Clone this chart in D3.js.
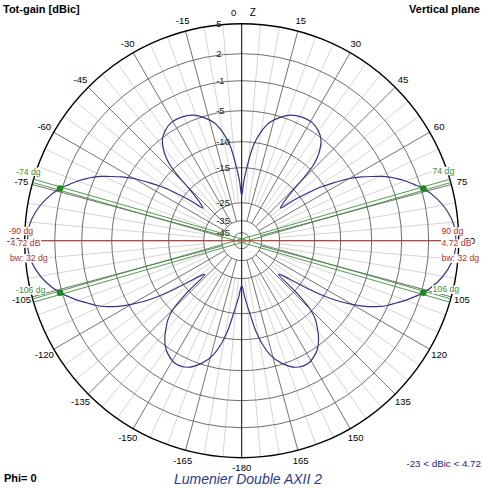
<!DOCTYPE html>
<html><head><meta charset="utf-8">
<script src="https://cdn.jsdelivr.net/npm/d3@7"></script>
<style>
body{margin:0;background:#fff}
svg{display:block}
text{font-family:"Liberation Sans",Arial,sans-serif}
</style>
</head><body>
<svg id="chart" width="483" height="488"></svg>
<script>
// ---------- data ----------
const ringLevels = [5, 2, -1, -5, -10, -15, -25, -35, -45];
const ringLabels = ["5", "2", "-1", "-5", "-10", "-15", "-25", "-35", "-45"];
const angleTicks = [0, 15, 30, 45, 60, 75, 90, 105, 120, 135, 150, 165, 180, -165, -150, -135, -120, -105, -90, -75, -60, -45, -30, -15];
const angleTickLabels = ["0", "15", "30", "45", "60", "75", "90", "105", "120", "135", "150", "165", "-180", "-165", "-150", "-135", "-120", "-105", "-90", "-75", "-60", "-45", "-30", "-15"];

// right half (theta 0..180 deg, clockwise from Z)
const angleRight = [0, 2, 4, 7, 10, 13, 17, 21, 26, 31, 35, 38, 40, 42, 43.5, 44.5, 45.5, 47.5, 50, 52, 54, 56, 58, 60, 62, 64, 66, 68, 70, 72, 74, 78, 82, 86, 90, 94, 98, 102, 106, 108, 110, 112, 114, 116, 118, 120, 122, 124, 126, 128, 130.5, 132.5, 133.5, 135, 137, 139, 141, 144, 147, 152, 157, 162, 166, 169, 171, 174, 177, 180];
const gainRight  = [-23, -19, -15, -10.6, -8.2, -6.5, -5.2, -4.4, -4.0, -4.0, -4.5, -5.2, -6.2, -7.6, -9.2, -11.8, -15.5, -19.5, -21.4, -17.2, -13.5, -10.5, -8.2, -5.9, -4.2, -2.8, -1.3, -0.3, 0.6, 1.4, 2.2, 3.3, 4.1, 4.6, 4.72, 4.6, 4.1, 3.3, 2.2, 1.4, 0.6, -0.3, -1.1, -2.3, -3.7, -5.4, -7.6, -10.3, -13.4, -17, -20.5, -21.6, -14.5, -10.4, -8.5, -7.4, -6.3, -5.0, -4.3, -3.7, -4.0, -5.2, -7.0, -9.2, -11.3, -15.6, -19.8, -23];
// left half (theta -180..0 deg)
const angleLeft = [-180, -177, -174, -171, -169, -166, -162, -157, -152, -147, -144, -141, -139, -137, -135, -133.5, -132.5, -130.5, -128, -126, -124, -122, -120, -118, -116, -114, -112, -110, -108, -106, -102, -98, -94, -90, -86, -82, -78, -74, -72, -70, -68, -66, -64, -62, -60, -58, -56, -54, -52, -50, -47.5, -45.5, -44.5, -43.5, -42, -40, -38, -35, -31, -26, -21, -17, -13, -10, -7, -4, -2, 0];
const gainLeft  = [-23, -19.8, -15.6, -11.3, -9.2, -7.0, -5.2, -4.0, -3.7, -4.3, -5.0, -6.3, -7.4, -8.5, -10.4, -14.5, -21.6, -20.5, -17, -13.4, -10.3, -7.6, -5.4, -3.7, -2.3, -1.1, -0.3, 0.6, 1.4, 2.2, 3.3, 4.1, 4.6, 4.72, 4.6, 4.1, 3.3, 2.2, 1.4, 0.6, -0.3, -1.3, -2.8, -4.2, -5.9, -8.2, -10.5, -13.5, -17.2, -21.4, -19.5, -15.5, -11.8, -9.2, -7.6, -6.2, -5.2, -4.5, -4.0, -4.0, -4.4, -5.2, -6.5, -8.2, -10.6, -15, -19, -23];

const beamAngles = [-74, 74, -106, 106];
const beamLabels = ["-74 dg", "74 dg", "-106 dg", "106 dg"];
const maxAngleLabels = ["-90 dg", "90 dg"];
const maxGain = 4.72, minGain = -23, beamWidth = 32;

// ---------- layout ----------
const svg = d3.select("#chart");
const cx = 241.7, cy = 240.7;
const rScale = d3.scaleLinear()
  .domain([-45, -35, -25, -15, -10, -5, -1, 2, 5])
  .range([8, 20, 38, 73, 99, 130, 160, 187, 217])
  .clamp(true);
const R = rScale(5);
const rad = d => d * Math.PI / 180;
const px = (a, r) => cx + r * Math.sin(rad(a));
const py = (a, r) => cy - r * Math.cos(rad(a));

const g = svg.append("g");

// light radial grid every 5 deg
const fine = d3.range(0, 360, 5).filter(a => a % 15 !== 0);
g.selectAll("line.fine").data(fine).join("line")
  .attr("x1", a => px(a, rScale(-25))).attr("y1", a => py(a, rScale(-25)))
  .attr("x2", a => px(a, R)).attr("y2", a => py(a, R))
  .attr("stroke", "#cfcfcf").attr("stroke-width", 0.9);
// dark radial grid every 15 deg
const coarse = d3.range(0, 360, 15).filter(a => a % 180 !== 0);
g.selectAll("line.coarse").data(coarse).join("line")
  .attr("x1", a => px(a, rScale(-35))).attr("y1", a => py(a, rScale(-35)))
  .attr("x2", a => px(a, R)).attr("y2", a => py(a, R))
  .attr("stroke", "#626262").attr("stroke-width", 0.9);
// rings
g.selectAll("circle.ring").data(ringLevels).join("circle")
  .attr("cx", cx).attr("cy", cy).attr("r", d => rScale(d))
  .attr("fill", "none")
  .attr("stroke", d => d === 5 ? "#000" : "#5e5e5e")
  .attr("stroke-width", d => d === 5 ? 1.4 : 0.9);
// vertical Z axis
g.append("line").attr("x1", px(0, R)).attr("y1", py(0, R)).attr("x2", px(180, R)).attr("y2", py(180, R))
  .attr("stroke", "#000").attr("stroke-width", 1);

// ring labels
g.selectAll("text.ringlab").data(ringLevels).join("text")
  .attr("x", cx - 25.5).attr("y", d => cy - rScale(d)).attr("dy", "0.35em")
  .attr("font-size", 9.5).attr("fill", "#222")
  .text((d, i) => ringLabels[i]);

// angle tick labels
const tickR = 228;
g.selectAll("text.tick").data(angleTicks).join("text")
  .attr("x", a => px(a, tickR) + (a === 0 ? -8 : 0))
  .attr("y", a => py(a, tickR) + (a === 180 ? -1.5 : 0)).attr("dy", "0.35em")
  .attr("text-anchor", "middle").attr("font-size", 9.5).attr("fill", "#000")
  .text((a, i) => angleTickLabels[i]);
g.append("text").attr("x", px(0, tickR) + 11).attr("y", py(0, tickR)).attr("dy", "0.35em")
  .attr("text-anchor", "middle").attr("font-size", 10).attr("fill", "#000").text("Z");

// green beamwidth lines (double)
const green = "#3d8f3d";
[[-74, 106], [74, -106]].forEach(([a1, a2]) => {
  [-0.45, 0.45].forEach(off => {
    g.append("line")
      .attr("x1", px(a1 + off, R)).attr("y1", py(a1 + off, R))
      .attr("x2", px(a2 - off, R)).attr("y2", py(a2 - off, R))
      .attr("stroke", green).attr("stroke-width", 0.9);
  });
});

// red max line
const red = "#b03030";
g.append("line")
  .attr("x1", px(-90, rScale(maxGain))).attr("y1", py(-90, rScale(maxGain)))
  .attr("x2", px(90, rScale(maxGain))).attr("y2", py(90, rScale(maxGain)))
  .attr("stroke", "#c23535").attr("stroke-width", 1);

// pattern curve
const pts = angleRight.map((a, i) => ({a: a, g: gainRight[i]}))
  .concat(angleLeft.map((a, i) => ({a: a + 360, g: gainLeft[i]})).filter(d => d.a > 180 && d.a < 360));
const line = d3.lineRadial()
  .angle(d => rad(d.a)).radius(d => rScale(d.g))
  .curve(d3.curveCatmullRomClosed.alpha(0.5));
g.append("path").attr("transform", `translate(${cx},${cy})`)
  .attr("d", line(pts)).attr("fill", "none")
  .attr("stroke", "#343482").attr("stroke-width", 1.2);

// beam edge dots
const gainAt = a => {
  const i = angleRight.indexOf(a); if (i >= 0) return gainRight[i];
  return gainLeft[angleLeft.indexOf(a)];
};
g.selectAll("circle.dot").data(beamAngles).join("circle")
  .attr("cx", a => px(a, rScale(gainAt(a)))).attr("cy", a => py(a, rScale(gainAt(a))))
  .attr("r", 3.3).attr("fill", "#1f8a1f");

// labels with white boxes
function boxed(x, y, txt, color, anchor) {
  const grp = g.append("g");
  const t = grp.append("text").attr("x", x).attr("y", y).attr("dy", "0.35em")
    .attr("font-size", 8.7).attr("fill", color).attr("text-anchor", anchor || "start").text(txt);
  const b = t.node().getBBox();
  grp.insert("rect", "text").attr("x", b.x - 0.5).attr("y", b.y + 1).attr("width", b.width + 1)
    .attr("height", b.height - 1.5).attr("fill", "#fff");
}
// green labels
boxed(16, 171.5, beamLabels[0], green);
boxed(432.5, 170.7, beamLabels[1], green);
boxed(16, 290, beamLabels[2], green);
boxed(432.5, 289.3, beamLabels[3], green);
// red labels
const maxTxt = maxGain.toFixed(2) + " dB";
const bwTxt = "bw: " + beamWidth + " dg";
boxed(8.5, 230.7, maxAngleLabels[0], red);
boxed(10.5, 243.2, maxTxt, red);
boxed(10, 258, bwTxt, red);
boxed(441.5, 231, maxAngleLabels[1], red);
boxed(441.5, 243.3, maxTxt, red);
boxed(441.5, 258.3, bwTxt, red);

// titles
svg.append("text").attr("x", 3).attr("y", 12.5).attr("font-size", 11).attr("font-weight", "bold").text("Tot-gain [dBic]");
svg.append("text").attr("x", 480).attr("y", 12.5).attr("text-anchor", "end").attr("font-size", 11).attr("font-weight", "bold").text("Vertical plane");
svg.append("text").attr("x", 4).attr("y", 482).attr("font-size", 11).attr("font-weight", "bold").text("Phi= 0");
svg.append("text").attr("x", 481).attr("y", 467).attr("text-anchor", "end").attr("font-size", 9.8).attr("fill", "#22228a")
  .text(minGain + " < dBic < " + maxGain.toFixed(2));
svg.append("text").attr("x", 248).attr("y", 484).attr("text-anchor", "middle").attr("font-size", 14)
  .attr("font-style", "italic").attr("fill", "#2b3a8c").text("Lumenier Double AXII 2");
</script>
</body></html>
